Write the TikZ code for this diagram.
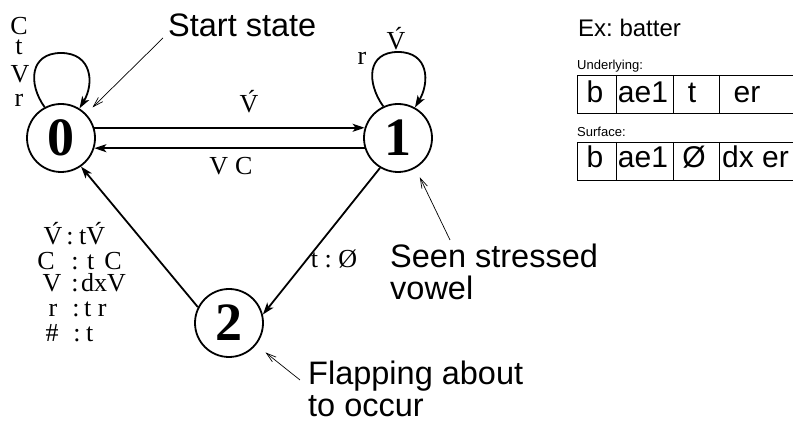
\documentclass[tikz,border=0pt]{standalone}
\usepackage{fontspec}
\setmainfont{Liberation Sans}
\newfontfamily\serf{Liberation Serif}
\usetikzlibrary{arrows.meta,calc}
\frenchspacing
\begin{document}
\begin{tikzpicture}[x=1pt,y=1pt,
  state/.style={circle,draw,line width=1.8pt,minimum size=68pt,inner sep=0pt,font=\serf\bfseries\fontsize{54}{54}\selectfont},
  trans/.style={line width=1.8pt,-{Stealth[length=12pt,width=8pt,inset=3pt]}},
  note/.style={line width=0.7pt,-{Straight Barb[length=10pt,width=6pt]}},
  lab/.style={font=\serf\fontsize{26}{26}\selectfont,inner sep=0pt,anchor=base},
  labw/.style={lab,anchor=base west},
  big/.style={font=\fontsize{32.5}{32.5}\selectfont,inner sep=0pt,anchor=base west},
  cell/.style={font=\fontsize{30}{30}\selectfont,inner sep=0pt,anchor=base},
  tbl/.style={line width=0.8pt}
]
\useasboundingbox (0,0) rectangle (793,422);
% states
\node[state] (s0) at (61,284) {0};
\node[state] (s1) at (398,284) {1};
\node[state] (s2) at (229,99) {2};
% transitions
\draw[trans] (s0.17) -- (s1.163);
\draw[trans] (s1.197) -- (s0.-17);
\draw[trans] (s1.239) -- (s2.14);
\draw[trans] (s2.153) -- (s0.305);
\draw[trans] (s0.118) .. controls +(-17,24) and +(-31,0) .. ($(s0.center)+(0,85)$) .. controls +(31,0) and +(15,25) .. (s0.58);
\draw[trans] (s1.115) .. controls +(-17,24) and +(-31,0) .. ($(s1.center)+(0,86)$) .. controls +(31,0) and +(15,25) .. (s1.61);
% transition labels
\node[lab] (e01) at (249,309) {\'V};
\node[lab] (e10) at (231,247) {V\hspace{7pt}C};
\node[lab] (e12) at (334,154) {t : Ø};
\node[lab] (l0a) at (19,387) {C};
\node[lab] (l0b) at (19,367) {t};
\node[lab] (l0c) at (20,339) {V};
\node[lab] (l0d) at (19,315) {r};
\node[lab] (l1a) at (362,357) {r};
\node[lab] (l1b) at (396,372) {\'V};
% 2 -> 0 labels
\node[lab] (r1a) at (53,177) {\'V};
\node[lab] (r1b) at (70,177) {:};
\node[labw] (r1c) at (79,177) {t\'V};
\node[lab] (r2a) at (46,152) {C};
\node[lab] (r2b) at (75,152) {:};
\node[labw] (r2c) at (87,152) {t\hspace{10pt}C};
\node[lab] (r3a) at (52,130) {V};
\node[lab] (r3b) at (75,130) {:};
\node[labw] (r3c) at (81,130) {dxV};
\node[lab] (r4a) at (53,105) {r};
\node[lab] (r4b) at (76,105) {:};
\node[labw] (r4c) at (84,105) {t r};
\node[lab] (r5a) at (52,80) {\#};
\node[lab] (r5b) at (77,80) {:};
\node[labw] (r5c) at (86,80) {t};
% annotations
\node[big] (start) at (168,385) {Start state};
\node[big] (seen1) at (390,154) {Seen stressed};
\node[big] (seen2) at (390,122) {vowel};
\node[big] (flap1) at (308,37) {Flapping about};
\node[big] (flap2) at (308,5.5) {to occur};
\coordinate (startfrom) at (163,384);
\coordinate (seenfrom) at (450,182);
\coordinate (flapfrom) at (300,42);
\draw[note,shorten >=9pt] (startfrom) -- (s0.44);
\draw[note,shorten >=10pt] (seenfrom) -- (s1.-60);
\draw[note,shorten >=12pt] (flapfrom) -- (s2.-39);
% example
\node[inner sep=0pt,anchor=base west,font=\fontsize{24}{24}\selectfont] (ex) at (578,385) {Ex: batter};
\node[inner sep=0pt,anchor=base west,font=\fontsize{13}{13}\selectfont] (und) at (577,352) {Underlying:};
\node[inner sep=0pt,anchor=base west,font=\fontsize{13}{13}\selectfont] (sur) at (577,285) {Surface:};
\draw[tbl] (793,347) -- (577,347) -- (577,309) -- (793,309);
\draw[tbl] (616,347) -- (616,309) (673,347) -- (673,309) (719,347) -- (719,309);
\draw[tbl] (793,280) -- (577,280) -- (577,242) -- (793,242);
\draw[tbl] (616,280) -- (616,242) (673,280) -- (673,242) (719,280) -- (719,242);
\node[cell] (u1) at (595,319) {b};
\node[cell] (u2) at (643,319) {ae1};
\node[cell] (u3) at (692,319) {t};
\node[cell] (u4) at (747,319) {er};
\node[cell] (v1) at (595,254) {b};
\node[cell] (v2) at (643,254) {ae1};
\node[cell] (v3) at (694,254) {Ø};
\node[cell,anchor=base west] (v4) at (722,254) {dx er};
\end{tikzpicture}
\end{document}
